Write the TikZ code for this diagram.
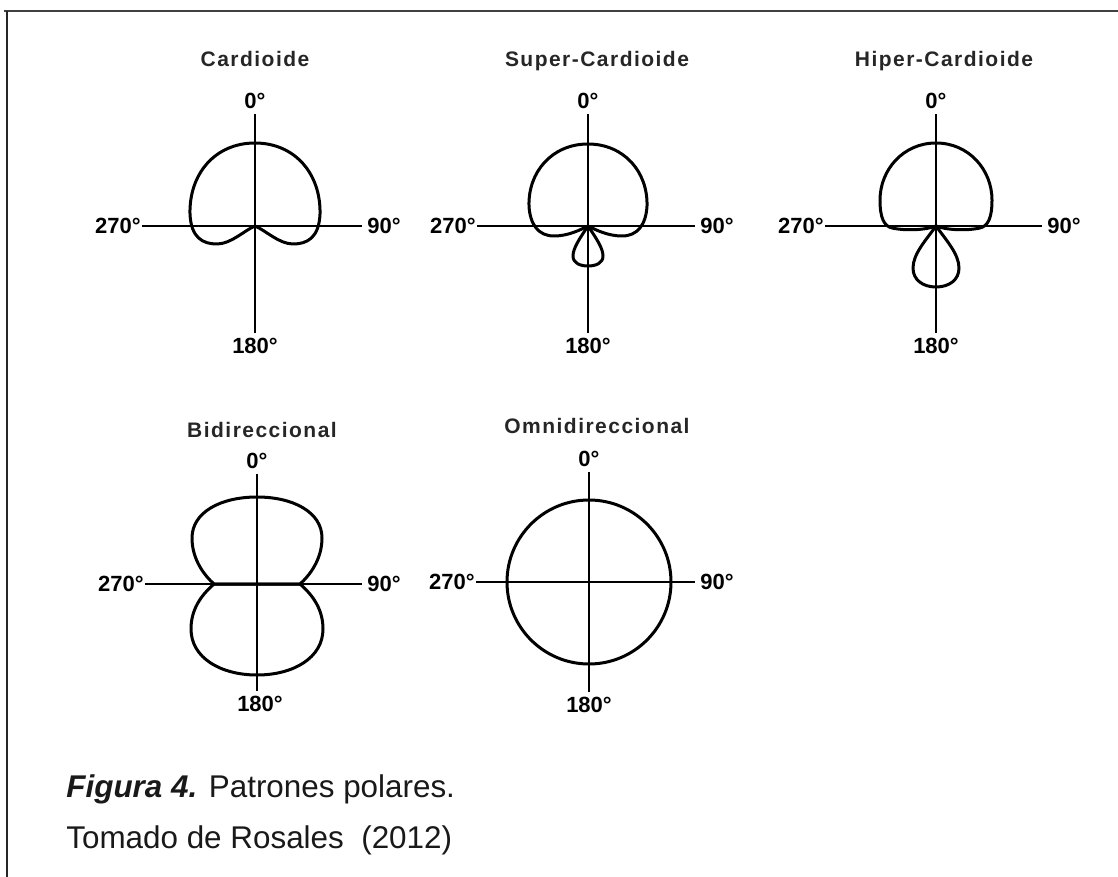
\documentclass[tikz,border=0pt]{standalone}
\usepackage{fontspec}
\setmainfont{Liberation Sans}
\newfontfamily\ttlfont[LetterSpace=7]{Liberation Sans}
\usetikzlibrary{positioning}

\begin{document}
\begin{tikzpicture}[x=0.5pt,y=0.5pt,
  ttl/.style={font=\ttlfont\bfseries\fontsize{10.5}{12}\selectfont,text=black!85,inner sep=0pt,anchor=base},
  lbl/.style={font=\bfseries\fontsize{11}{13}\selectfont,inner sep=2.5pt},
  lblw/.style={lbl,anchor=east,inner xsep=0.5pt},
  axis/.style={line width=.85pt},
  lobe/.style={line width=1.5pt,line join=round},
  captxt/.style={font=\fontsize{15.7}{18}\selectfont,inner sep=0pt,anchor=base west,text=black!90}]
\useasboundingbox (0,0) rectangle (1118,-877);
% frame
\coordinate (fa) at (4,-11);
\coordinate (fb) at (1118,-11);
\coordinate (fc) at (7,-11);
\coordinate (fd) at (7,-877);
\draw[line width=1.2pt,black!75] (fa) -- (fb);
\draw[line width=1pt,black!85] (fc) -- (fd);

% Cardioide
\begin{scope}[shift={(255,-226)}]
\node[ttl] (cardT) at (0,159) {Cardioide};
\node[lbl,anchor=south] (card0) at (0,112) {0°};
\node[lbl,anchor=north] (card180) at (0,-107) {180°};
\node[lblw] (card270) at (-113,0) {270°};
\node[lbl,anchor=west] (card90) at (107,0) {90°};
\draw[axis] (card0) -- (card180);
\draw[axis] (card270) -- (card90);
\draw[lobe] (0,83) .. controls (40,83) and (66,52) .. (65,12)
  .. controls (64,-12) and (52,-18) .. (38,-18)
  .. controls (24,-18) and (10,-4) .. (0,0)
  .. controls (-10,-4) and (-24,-18) .. (-38,-18)
  .. controls (-52,-18) and (-64,-12) .. (-65,12)
  .. controls (-66,52) and (-40,83) .. (0,83) -- cycle;
\end{scope}

% Super-Cardioide
\begin{scope}[shift={(588,-226)}]
\node[ttl] (supT) at (9,159) {Super-Cardioide};
\node[lbl,anchor=south] (sup0) at (0,112) {0°};
\node[lbl,anchor=north] (sup180) at (0,-107) {180°};
\node[lblw] (sup270) at (-111,0) {270°};
\node[lbl,anchor=west] (sup90) at (107,0) {90°};
\draw[axis] (sup0) -- (sup180);
\draw[axis] (sup270) -- (sup90);
\draw[lobe] (0,82) .. controls (36,82) and (60,54) .. (59,20)
  .. controls (58,2) and (50,-10) .. (34,-10)
  .. controls (20,-10) and (8,-4) .. (0,0)
  .. controls (-8,-4) and (-20,-10) .. (-34,-10)
  .. controls (-50,-10) and (-58,2) .. (-59,20)
  .. controls (-60,54) and (-36,82) .. (0,82) -- cycle;
\draw[lobe] (0,0) .. controls (8,-12) and (15,-22) .. (15,-30)
  .. controls (15,-37) and (8,-40) .. (0,-40)
  .. controls (-8,-40) and (-15,-37) .. (-15,-30)
  .. controls (-15,-22) and (-8,-12) .. (0,0) -- cycle;
\end{scope}

% Hiper-Cardioide
\begin{scope}[shift={(936,-226)}]
\node[ttl] (hipT) at (8,159) {Hiper-Cardioide};
\node[lbl,anchor=south] (hip0) at (0,112) {0°};
\node[lbl,anchor=north] (hip180) at (0,-107) {180°};
\node[lblw] (hip270) at (-111,0) {270°};
\node[lbl,anchor=west] (hip90) at (106,0) {90°};
\draw[axis] (hip0) -- (hip180);
\draw[axis] (hip270) -- (hip90);
\draw[lobe] (0,83) .. controls (33,83) and (56,56) .. (56,26)
  .. controls (56,8) and (52,0) .. (44,-2)
  .. controls (30,-5) and (10,-4) .. (0,0)
  .. controls (-10,-4) and (-30,-5) .. (-44,-2)
  .. controls (-52,0) and (-56,8) .. (-56,26)
  .. controls (-56,56) and (-33,83) .. (0,83) -- cycle;
\draw[lobe] (0,0) .. controls (10,-14) and (23,-28) .. (23,-42)
  .. controls (23,-54) and (13,-61) .. (0,-61)
  .. controls (-13,-61) and (-23,-54) .. (-23,-42)
  .. controls (-23,-28) and (-10,-14) .. (0,0) -- cycle;
\end{scope}

% Bidireccional
\begin{scope}[shift={(257,-584)}]
\node[ttl] (bidT) at (5,147) {Bidireccional};
\node[lbl,anchor=south] (bid0) at (0,110) {0°};
\node[lbl,anchor=north] (bid180) at (3,-107) {180°};
\node[lblw] (bid270) at (-112,0) {270°};
\node[lbl,anchor=west] (bid90) at (105,0) {90°};
\coordinate (bidS) at (0,-107);
\draw[axis] (bid0) -- (bidS);
\draw[axis,line width=1.2pt] (bid270) -- (bid90);
\draw[lobe] (-43,0) .. controls (-52,8) and (-65,24) .. (-65,46)
  .. controls (-65,72) and (-36,87) .. (0,87)
  .. controls (36,87) and (65,72) .. (65,46)
  .. controls (65,24) and (52,8) .. (43,0) -- cycle;
\draw[lobe] (-43,0) .. controls (-52,-8) and (-66,-22) .. (-66,-45)
  .. controls (-66,-74) and (-36,-91) .. (0,-91)
  .. controls (36,-91) and (66,-74) .. (66,-45)
  .. controls (66,-22) and (52,-8) .. (43,0) -- cycle;
\end{scope}

% Omnidireccional
\begin{scope}[shift={(589,-582)}]
\node[ttl] (omniT) at (8,149) {Omnidireccional};
\node[lbl,anchor=south] (omni0) at (0,110) {0°};
\node[lbl,anchor=north] (omni180) at (0,-110) {180°};
\node[lblw] (omni270) at (-113,0) {270°};
\node[lbl,anchor=west] (omni90) at (106,0) {90°};
\draw[axis] (omni0) -- (omni180);
\draw[axis] (omni270) -- (omni90);
\draw[lobe] (0,0) circle (82);
\end{scope}

% caption
\node[captxt] (fig) at (66,-797) {\textbf{\textit{Figura 4.}} Patrones polares.};
\node[captxt] (src) at (66,-848) {Tomado de Rosales~~(2012)};
\end{tikzpicture}
\end{document}
